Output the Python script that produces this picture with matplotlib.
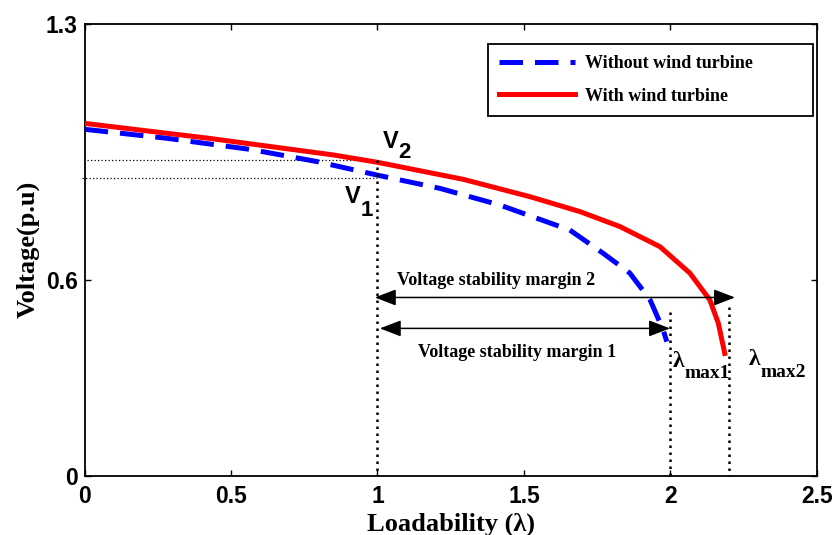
import matplotlib
matplotlib.use("Agg")
import matplotlib.pyplot as plt

# ---- data ----
lam_without = [0, 0.282, 0.567, 0.794, 1.0, 1.213, 1.418, 1.657, 1.771, 1.862, 1.931, 1.976, 1.988]
v_without = [0.997, 0.971, 0.939, 0.904, 0.865, 0.827, 0.779, 0.707, 0.64, 0.583, 0.506, 0.419, 0.386]

lam_with = [0, 0.425, 0.851, 1.0, 1.293, 1.521, 1.692, 1.828, 1.965, 2.067, 2.135, 2.164, 2.186]
v_with = [1.014, 0.971, 0.923, 0.902, 0.853, 0.803, 0.76, 0.717, 0.659, 0.583, 0.506, 0.439, 0.352]

series_labels = ["Without wind turbine", "With wind turbine"]

xtick_pos = [0, 0.5, 1.0, 1.5, 2.0, 2.5]
xtick_labels = ["0", "0.5", "1", "1.5", "2", "2.5"]
ytick_pos = [0, 0.563, 1.3]
ytick_labels = ["0", "0.6", "1.3"]

lam_base = 1.0
lam_max1 = 2.0
lam_max2 = 2.2
V1 = 0.858
V2 = 0.909

serif = ["Liberation Serif", "DejaVu Serif"]
sans = ["Liberation Sans", "DejaVu Sans"]

fig = plt.figure(figsize=(8.32, 5.35), dpi=100)
ax = fig.add_axes([0.1018, 0.1108, 0.8798, 0.8443])

ax.plot(lam_without, v_without, color="#0000ff", lw=3.6, dashes=(4.7, 2.4),
        dash_capstyle="butt", label=series_labels[0], zorder=3)
ax.plot(lam_with, v_with, color="#ff0000", lw=3.6, label=series_labels[1], zorder=3)

# horizontal thin dotted reference lines
ax.plot([0.007, lam_base], [V2, V2], color="black", lw=0.9, dashes=(1, 1.8), zorder=2)
ax.plot([-0.01, lam_base], [V1, V1], color="black", lw=0.9, dashes=(1, 1.8), zorder=2, clip_on=False)

# vertical dotted lines
vdot = dict(color="black", lw=1.8, dashes=(1, 1.8), zorder=4)
ax.plot([lam_base, lam_base], [V2, 0], **vdot)
ax.plot([lam_max1, lam_max1], [0.472, 0], **vdot)
ax.plot([lam_max2, lam_max2], [0.486, 0], **vdot)

# margin arrows
arrowprops = dict(arrowstyle="<|-|>,head_length=1.3,head_width=0.5", color="black",
                  lw=1.1, shrinkA=0, shrinkB=0)
ax.annotate("", xy=(2.221, 0.513), xytext=(0.991, 0.513), arrowprops=arrowprops, zorder=5)
ax.annotate("", xy=(1.999, 0.424), xytext=(1.008, 0.424), arrowprops=arrowprops, zorder=5)

ax.text(1.405, 0.563, "Voltage stability margin 2", family=serif, weight="bold",
        fontsize=13, ha="center", va="center")
ax.text(1.475, 0.356, "Voltage stability margin 1", family=serif, weight="bold",
        fontsize=13, ha="center", va="center")

# V labels
ax.text(1.044, 0.962, "V", family=sans, weight="bold", fontsize=17, ha="center", va="center")
ax.text(1.092, 0.929, "2", family=sans, weight="bold", fontsize=16, ha="center", va="center")
ax.text(0.915, 0.805, "V", family=sans, weight="bold", fontsize=17, ha="center", va="center")
ax.text(0.962, 0.763, "1", family=sans, weight="bold", fontsize=16, ha="center", va="center")

# lambda labels
ax.text(2.027, 0.330, "λ", family=serif, weight="bold", fontsize=17, ha="center", va="center")
ax.text(2.125, 0.295, "max1", family=serif, weight="bold", fontsize=14, ha="center", va="center")
ax.text(2.289, 0.334, "λ", family=serif, weight="bold", fontsize=17, ha="center", va="center")
ax.text(2.385, 0.297, "max2", family=serif, weight="bold", fontsize=14, ha="center", va="center")

ax.set_xlim(0, 2.5)
ax.set_ylim(0, 1.3)
ax.set_xticks(xtick_pos)
ax.set_xticklabels(xtick_labels)
ax.set_yticks(ytick_pos)
ax.set_yticklabels(ytick_labels)
ax.tick_params(direction="in", length=4, width=1, top=True, right=True)
ax.tick_params(axis="y", pad=5)
ax.tick_params(axis="x", pad=7)
for lab in ax.get_xticklabels() + ax.get_yticklabels():
    lab.set_family(sans)
    lab.set_weight("bold")
    lab.set_fontsize(16.5)
for sp in ax.spines.values():
    sp.set_linewidth(1.3)

ax.set_xlabel("Loadability (λ)", family=serif, weight="bold", fontsize=19, labelpad=3)
ax.set_ylabel("Voltage(p.u)", family=serif, weight="bold", fontsize=19, labelpad=4)

leg = ax.legend(loc="upper left", bbox_to_anchor=(0.5505, 0.5, 0.4448, 0.4557), mode="expand",
                borderaxespad=0, fancybox=False, framealpha=1, edgecolor="black",
                handlelength=4.2, handletextpad=0.55, labelspacing=0.85, borderpad=0.62,
                prop=dict(family=serif, weight="bold", size=13))
leg.get_frame().set_linewidth(1.3)

fig.savefig("out.png", dpi=100)
